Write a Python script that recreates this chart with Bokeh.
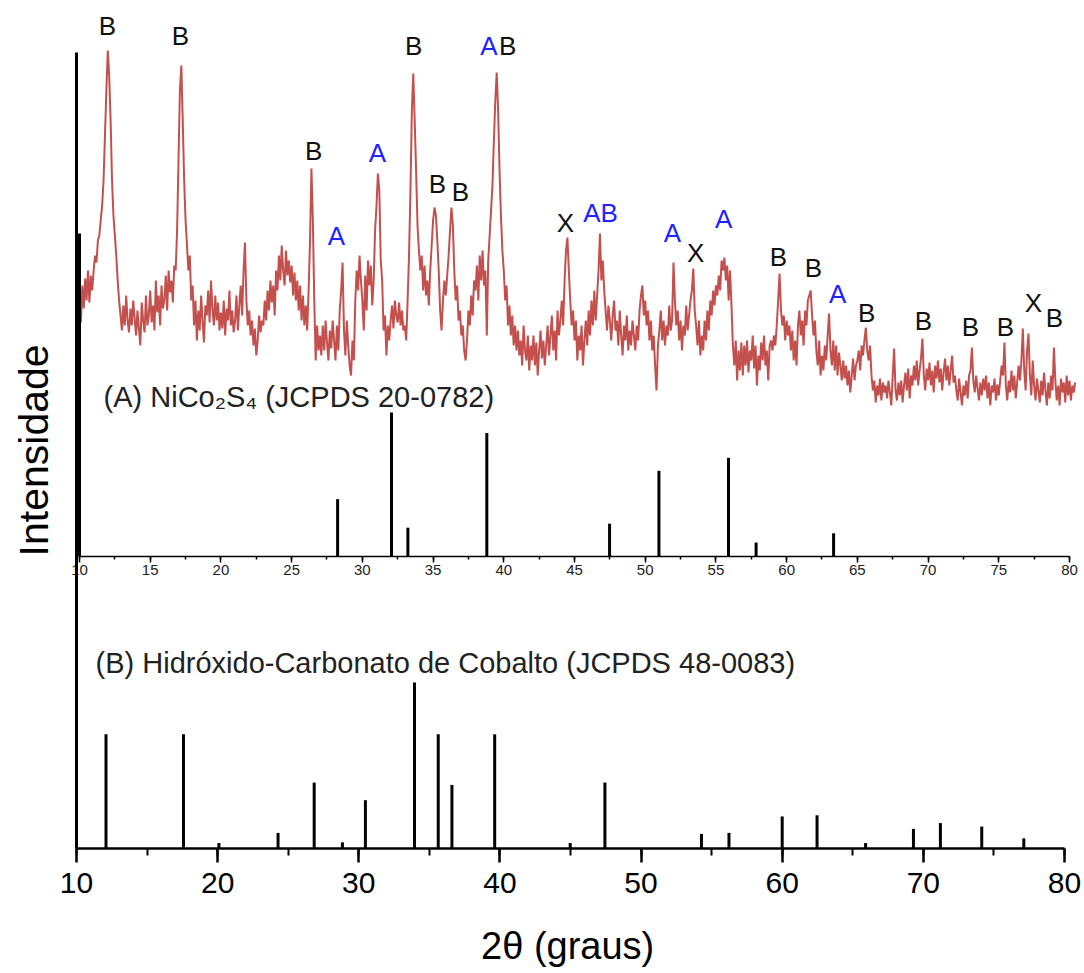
import numpy as np
from bokeh.plotting import figure
from bokeh.models import (Range1d, LinearAxis, SingleIntervalTicker, FixedTicker,
                          ColumnDataSource, Label)
from bokeh.core.properties import value
from bokeh.embed import file_html
from bokeh.resources import INLINE

# ---------------- data ----------------
# measured pattern (a.u.), one row per degree, scan 10.0 -> 80.4 step 0.1
scan_start = 10.0
scan_step = 0.1
exp_intensity = [
    110, 98, 135, 112, 142, 120, 150, 118, 145, 130,
    150, 165, 158, 180, 185, 200, 215, 240, 285, 330,
    370, 345, 300, 240, 205, 185, 165, 140, 120, 105,
    90, 115, 95, 125, 100, 88, 112, 95, 120, 102,
    85, 110, 92, 75, 118, 100, 88, 125, 95, 105,
    130, 98, 115, 90, 140, 108, 125, 95, 135, 112,
    120, 145, 110, 150, 128, 140, 118, 155, 150, 190,
    260, 330, 355, 300, 240, 200, 175, 150, 165, 120,
    135, 95, 120, 80, 110, 90, 125, 100, 78, 115,
    105, 130, 98, 140, 112, 95, 125, 100, 118, 90,
    108, 92, 120, 85, 112, 100, 130, 95, 110, 88,
    100, 125, 90, 115, 135, 105, 150, 178, 120, 95,
    110, 85, 100, 75, 92, 65, 80, 105, 88, 100,
    95, 120, 100, 130, 110, 140, 118, 135, 105, 150,
    130, 165, 140, 175, 150, 135, 170, 145, 160, 138,
    155, 125, 148, 120, 140, 110, 135, 100, 125, 95,
    115, 90, 130, 180, 252, 200, 120, 60, 95, 70,
    85, 65, 95, 70, 100, 78, 60, 90, 72, 100,
    80, 60, 95, 70, 110, 130, 158, 90, 65, 100,
    75, 55, 45, 80, 60, 120, 150, 130, 165, 140,
    120, 90, 145, 110, 160, 135, 155, 115, 140, 190,
    215, 247, 230, 160, 140, 90, 105, 65, 95, 80,
    100, 115, 92, 120, 105, 98, 118, 95, 110, 90,
    95, 80, 120, 165, 230, 310, 347, 300, 250, 195,
    170, 150, 165, 130, 155, 125, 140, 115, 150, 175,
    200, 213, 205, 180, 150, 110, 90, 120, 140, 125,
    145, 165, 190, 213, 195, 150, 120, 135, 100, 110,
    85, 95, 70, 60, 80, 110, 95, 125, 105, 140,
    130, 155, 120, 165, 140, 170, 135, 150, 85, 160,
    185, 210, 235, 280, 320, 348, 310, 250, 205, 170,
    150, 120, 135, 95, 115, 85, 105, 75, 95, 70,
    90, 65, 80, 55, 95, 70, 60, 85, 50, 75,
    60, 85, 55, 78, 45, 70, 90, 62, 80, 55,
    75, 95, 65, 85, 105, 70, 90, 60, 110, 85,
    100, 120, 95, 140, 170, 183, 150, 120, 95, 110,
    80, 100, 60, 85, 70, 95, 55, 80, 100, 75,
    110, 85, 120, 95, 130, 100, 125, 150, 187, 140,
    160, 130, 110, 90, 115, 100, 80, 105, 120, 90,
    100, 75, 110, 85, 65, 95, 80, 105, 70, 90,
    75, 100, 85, 70, 95, 80, 110, 125, 135, 105,
    120, 95, 110, 80, 100, 70, 85, 55, 30, 75,
    90, 110, 80, 100, 75, 95, 85, 115, 90, 100,
    158, 120, 95, 110, 80, 100, 70, 95, 85, 115,
    90, 105, 120, 130, 152, 110, 95, 75, 100, 65,
    85, 70, 100, 80, 110, 90, 120, 105, 130, 115,
    135, 125, 145, 130, 160, 150, 163, 140, 155, 120,
    150, 115, 75, 55, 80, 40, 70, 50, 78, 45,
    75, 55, 80, 48, 70, 60, 85, 52, 75, 35,
    65, 50, 78, 60, 85, 55, 70, 40, 75, 80,
    70, 85, 75, 95, 120, 147, 110, 95, 105, 80,
    100, 85, 95, 70, 90, 60, 80, 55, 95, 110,
    85, 100, 75, 110, 95, 120, 125, 130, 105, 85,
    100, 70, 55, 80, 45, 65, 50, 75, 60, 85,
    107, 70, 55, 80, 50, 75, 45, 68, 55, 40,
    60, 42, 55, 35, 50, 28, 45, 62, 40, 55,
    60, 70, 50, 75, 65, 80, 93, 70, 60, 75,
    45, 30, 40, 18, 35, 25, 42, 20, 38, 28,
    35, 22, 40, 28, 15, 45, 72, 30, 20, 38,
    25, 40, 18, 35, 48, 30, 52, 22, 45, 35,
    55, 40, 60, 35, 50, 62, 82, 45, 30, 52,
    40, 58, 35, 50, 28, 55, 42, 60, 38, 52,
    30, 48, 62, 40, 55, 35, 50, 65, 38, 45,
    30, 20, 42, 28, 15, 35, 25, 40, 22, 45,
    50, 73, 40, 28, 45, 32, 20, 38, 25, 42,
    30, 45, 22, 38, 15, 35, 28, 42, 20, 36,
    25, 40, 55, 45, 78, 35, 20, 40, 28, 50,
    30, 45, 22, 38, 55, 40, 60, 92, 50, 30,
    70, 87, 45, 25, 60, 35, 20, 42, 30, 18,
    40, 25, 48, 30, 15, 38, 22, 45, 30, 73,
    40, 20, 35, 15, 42, 28, 38, 18, 45, 25,
    40, 20, 35, 28, 38,
]

# (A) NiCo2S4 JCPDS 20-0782 reference lines (relative intensity %)
a_pos = [28.25, 32.06, 33.22, 38.80, 47.48, 50.97, 55.89, 57.84, 63.32]
a_int = [39.8, 100.0, 20.0, 85.7, 22.8, 59.5, 68.5, 9.7, 16.1]

# (B) cobalt hydroxide carbonate JCPDS 48-0083 reference lines (relative intensity %)
b_pos = [12.09, 17.58, 20.09, 24.28, 26.84, 28.84, 30.47, 33.95, 35.63, 36.60,
         39.63, 44.98, 47.44, 54.28, 56.23, 60.00, 62.47, 65.91, 69.30, 71.21,
         74.14, 77.12]
b_int = [68.8, 68.8, 3.3, 9.4, 39.7, 3.7, 29.1, 100.0, 68.8, 38.3,
         68.8, 3.3, 39.7, 8.8, 9.4, 19.3, 20.0, 3.3, 11.8, 15.3,
         13.2, 6.1]

# phase markers on the measured pattern (2theta, intensity a.u.)
peak_text = ["B", "B", "B", "A", "A", "B", "A", "B", "B", "B", "X", "AB",
             "A", "X", "A", "B", "B", "A", "B", "B", "B", "B", "X", "B"]
peak_x = [11.98, 17.14, 26.55, 31.07, 28.17, 33.62, 38.95, 40.28, 35.31, 36.94,
          44.36, 46.84, 51.93, 53.56, 55.54, 59.42, 61.90, 63.60, 65.65, 69.68,
          73.00, 75.47, 77.45, 78.94]
peak_y = [395, 385, 270, 268, 185, 375, 375, 375, 237, 229,
          198, 208, 188, 168, 202, 164, 153, 127, 108, 100,
          94, 94, 118, 103]

label_a = "(A) NiCo\u2082S\u2084 (JCPDS  20-0782)"
label_b = "(B) Hidróxido-Carbonato de Cobalto (JCPDS 48-0083)"
x_title = "2θ (graus)"
y_title = "Intensidade"

# ---------------- figure ----------------
FONT = "Liberation Sans"
twotheta = scan_start + scan_step * np.arange(len(exp_intensity))

# the frame covers the whole canvas; axes are drawn at fixed locations
p = figure(width=1084, height=973, output_backend="svg", toolbar_location=None,
           x_axis_type=None, y_axis_type=None,
           x_range=Range1d(4.615, 81.42), y_range=Range1d(-75.3, 510.8),
           min_border_left=0, min_border_right=0, min_border_top=0,
           min_border_bottom=0)
p.outline_line_color = None
p.background_fill_color = "white"
p.border_fill_color = "white"

p.extra_x_ranges = {"mid": Range1d(4.414, 81.061)}
p.extra_y_ranges = {"A": Range1d(-289.6, 386.1), "exp": Range1d(-553, 420)}

# measured curve
p.line(twotheta, exp_intensity, x_range_name="mid", y_range_name="exp",
       line_color="#C4504E", line_width=2.0)

# reference sticks
p.segment(x0=a_pos, y0=[0] * len(a_pos), x1=a_pos, y1=a_int,
          x_range_name="mid", y_range_name="A",
          line_color="black", line_width=3, line_cap="butt")
p.segment(x0=b_pos, y0=[0] * len(b_pos), x1=b_pos, y1=b_int,
          line_color="black", line_width=3, line_cap="butt")

# phase labels
colors = ["#2222FF" if "A" in t else "#111111" for t in peak_text]
src = ColumnDataSource(dict(x=peak_x, y=peak_y, t=peak_text, c=colors))
p.text(x="x", y="y", text="t", text_color="c", source=src,
       x_range_name="mid", y_range_name="exp",
       text_font=value(FONT), text_font_size="26px",
       text_align="center", text_baseline="middle")

p.add_layout(Label(x=11.70, y=111, x_range_name="mid", y_range_name="A",
                   text=label_a, text_font=FONT, text_font_size="29px",
                   text_color="#222222", text_baseline="middle"))
p.add_layout(Label(x=11.35, y=112, text=label_b, text_font=FONT,
                   text_font_size="29px", text_color="#222222",
                   text_baseline="middle"))

# axis titles
p.add_layout(Label(x=7.02, y=239.8, text=y_title, text_font=FONT,
                   text_font_size="41px", text_color="black", angle=90,
                   angle_units="deg", text_align="center",
                   text_baseline="middle"))
p.add_layout(Label(x=44.8, y=-59, text=x_title, text_font=FONT,
                   text_font_size="38px", text_color="black",
                   text_align="center", text_baseline="middle"))

# bottom main axis
xaxis = LinearAxis(ticker=SingleIntervalTicker(interval=10, num_minor_ticks=2),
                   bounds=(10, 80), fixed_location=0)
xaxis.axis_line_width = 2.5
xaxis.major_tick_line_width = 2.5
xaxis.minor_tick_line_width = 2
xaxis.major_tick_in = 0
xaxis.major_tick_out = 14
xaxis.minor_tick_in = 0
xaxis.minor_tick_out = 7
xaxis.major_label_text_font = FONT
xaxis.major_label_text_font_size = "30px"
xaxis.major_label_text_color = "black"
xaxis.major_label_standoff = 11
p.add_layout(xaxis, "below")

# middle axis for pattern A
midaxis = LinearAxis(x_range_name="mid", y_range_name="A", fixed_location=0,
                     bounds=(10, 80),
                     ticker=SingleIntervalTicker(interval=5, num_minor_ticks=2))
midaxis.axis_line_width = 1.5
midaxis.major_tick_line_width = 1.5
midaxis.minor_tick_line_width = 1.5
midaxis.major_tick_in = 0
midaxis.major_tick_out = 6
midaxis.minor_tick_in = 0
midaxis.minor_tick_out = 3
midaxis.major_label_text_font = FONT
midaxis.major_label_text_font_size = "15px"
midaxis.major_label_text_color = "#222222"
midaxis.major_label_standoff = 3
p.add_layout(midaxis, "below")

# main left axis (line only)
yaxis = LinearAxis(ticker=FixedTicker(ticks=[], minor_ticks=[]), bounds=(0, 479.5),
                   fixed_location=10)
yaxis.axis_line_width = 3
yaxis.major_label_text_font_size = "0px"
p.add_layout(yaxis, "left")

# left line of the middle panel
vline = LinearAxis(x_range_name="mid", y_range_name="A", fixed_location=10,
                   bounds=(0, 224), ticker=FixedTicker(ticks=[], minor_ticks=[]))
vline.axis_line_width = 3
vline.major_label_text_font_size = "0px"
p.add_layout(vline, "left")

open("out.html", "w").write(file_html(p, INLINE))
